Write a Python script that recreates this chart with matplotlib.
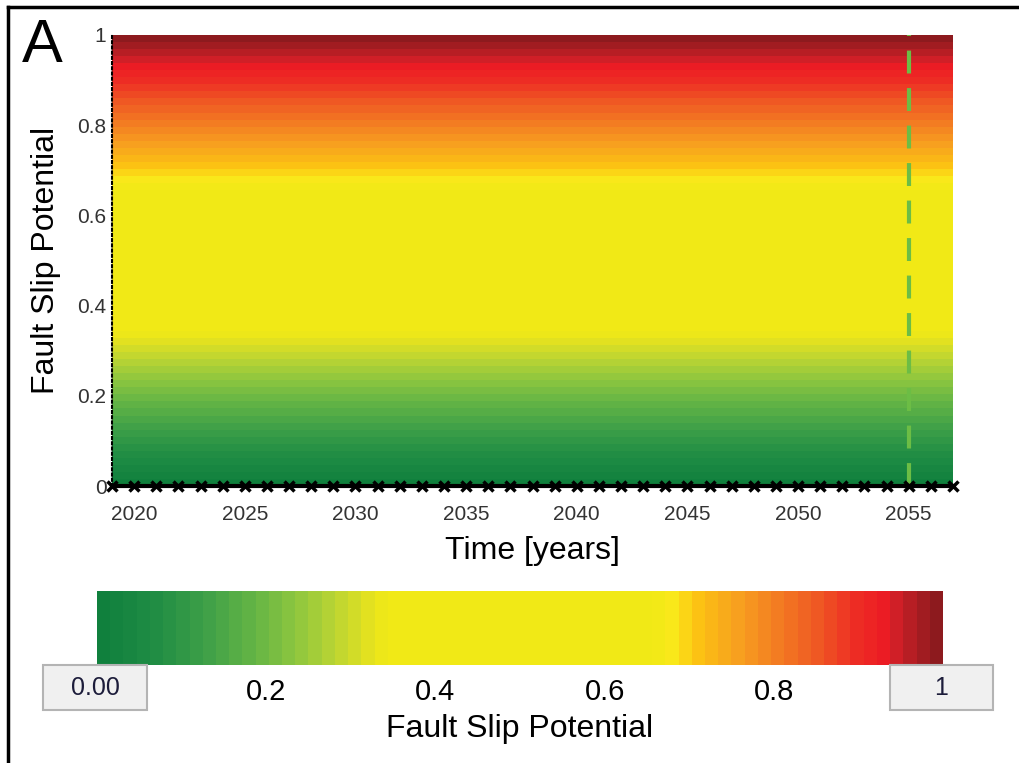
import numpy as np
import matplotlib
matplotlib.use("Agg")
import matplotlib.pyplot as plt
from matplotlib.colors import LinearSegmentedColormap, Normalize
from matplotlib.patches import Rectangle
from matplotlib.lines import Line2D

plt.rcParams["font.family"] = ["Liberation Sans", "DejaVu Sans"]

# data
years = list(range(2019, 2058))
fsp_edges = np.linspace(0.0, 1.0, 65)
fsp_centers = 0.5 * (fsp_edges[:-1] + fsp_edges[1:])
marker_year = 2055
x_ticks = [2020, 2025, 2030, 2035, 2040, 2045, 2050, 2055]
y_ticks = [0, 0.2, 0.4, 0.6, 0.8, 1]
y_ticklabels = ["0", "0.2", "0.4", "0.6", "0.8", "1"]
cbar_ticks = [0.2, 0.4, 0.6, 0.8]
cbar_ticklabels = ["0.2", "0.4", "0.6", "0.8"]

# traffic-light colour scale
anchors = [
    (0.00, "#10803d"),
    (0.06, "#1f8c44"),
    (0.12, "#3c9f48"),
    (0.18, "#64b445"),
    (0.23, "#8cc63f"),
    (0.28, "#bdd532"),
    (0.32, "#e4e21f"),
    (0.34, "#f1e916"),
    (0.66, "#f1e916"),
    (0.685, "#fae81a"),
    (0.71, "#fcc512"),
    (0.76, "#f7a11f"),
    (0.81, "#f37c22"),
    (0.86, "#ef5623"),
    (0.90, "#ed2f24"),
    (0.935, "#ed1c24"),
    (0.955, "#cc2027"),
    (0.975, "#ad1d22"),
    (1.00, "#8d1a1e"),
]
cmap = LinearSegmentedColormap.from_list("fsp", anchors).resampled(64)
norm = Normalize(0, 1)

W, H = 1020, 763
fig = plt.figure(figsize=(W / 100, H / 100), dpi=100)


def fx(px):
    return px / W


def fy(py):
    return 1 - py / H


# outer frame (right and bottom cropped)
fig.add_artist(Line2D([fx(8), fx(8)], [fy(7), 0], color="black", lw=2.5))
fig.add_artist(Line2D([fx(8), 1], [fy(7), fy(7)], color="black", lw=2.5))

ax = fig.add_axes([fx(112), fy(486), fx(953) - fx(112), fy(35) - fy(486)])
Z = np.repeat(fsp_centers[:, None], len(years) - 1, axis=1)
ax.pcolormesh(years, fsp_edges, Z, cmap=cmap, norm=norm, shading="flat")
ax.axvline(marker_year, color="#6cbd45", lw=3, dashes=(5.5, 3.5))
ax.plot(years, [0] * len(years), color="black", lw=3, marker="x", ms=6.5,
        mew=2.5, clip_on=False, zorder=5)
ax.set_xlim(years[0], years[-1])
ax.set_ylim(0, 1)
for s in ("top", "right", "bottom"):
    ax.spines[s].set_visible(False)
ax.spines["left"].set_linestyle((0, (1, 1.5)))
ax.spines["left"].set_linewidth(1.5)
ax.set_xticks(x_ticks)
ax.set_yticks(y_ticks)
ax.set_yticklabels(y_ticklabels)
ax.tick_params(axis="both", length=0, labelsize=15, colors="#333333")
ax.tick_params(axis="x", pad=14)
ax.tick_params(axis="y", pad=4)
ax.set_xlabel("Time [years]", fontsize=23, color="black", labelpad=8)
ax.set_ylabel("Fault Slip Potential", fontsize=23, color="black", labelpad=12)

fig.text(fx(22), fy(46), "A", fontsize=44, va="center", ha="left")

# colour bar
cax = fig.add_axes([fx(97), fy(665), fx(943) - fx(97), fy(591) - fy(665)])
sm = matplotlib.cm.ScalarMappable(norm=norm, cmap=cmap)
cb = fig.colorbar(sm, cax=cax, orientation="horizontal")
cb.outline.set_visible(False)
cb.set_ticks(cbar_ticks)
cb.set_ticklabels(cbar_ticklabels)
cax.tick_params(length=0, labelsize=21, pad=9)
cax.set_xlabel("Fault Slip Potential", fontsize=23, labelpad=6)

for (x0, x1, txt) in [(43, 147, "0.00"), (890, 993, "1")]:
    fig.add_artist(Rectangle((fx(x0), fy(710)), fx(x1) - fx(x0), fy(665) - fy(710),
                             facecolor="#f0f0f0", edgecolor="#b4b4b4", lw=1.5))
    fig.text(fx((x0 + x1) / 2), fy(688), txt, fontsize=18, color="#1c1c3a",
             ha="center", va="center")

fig.savefig("out.png", dpi=100)
